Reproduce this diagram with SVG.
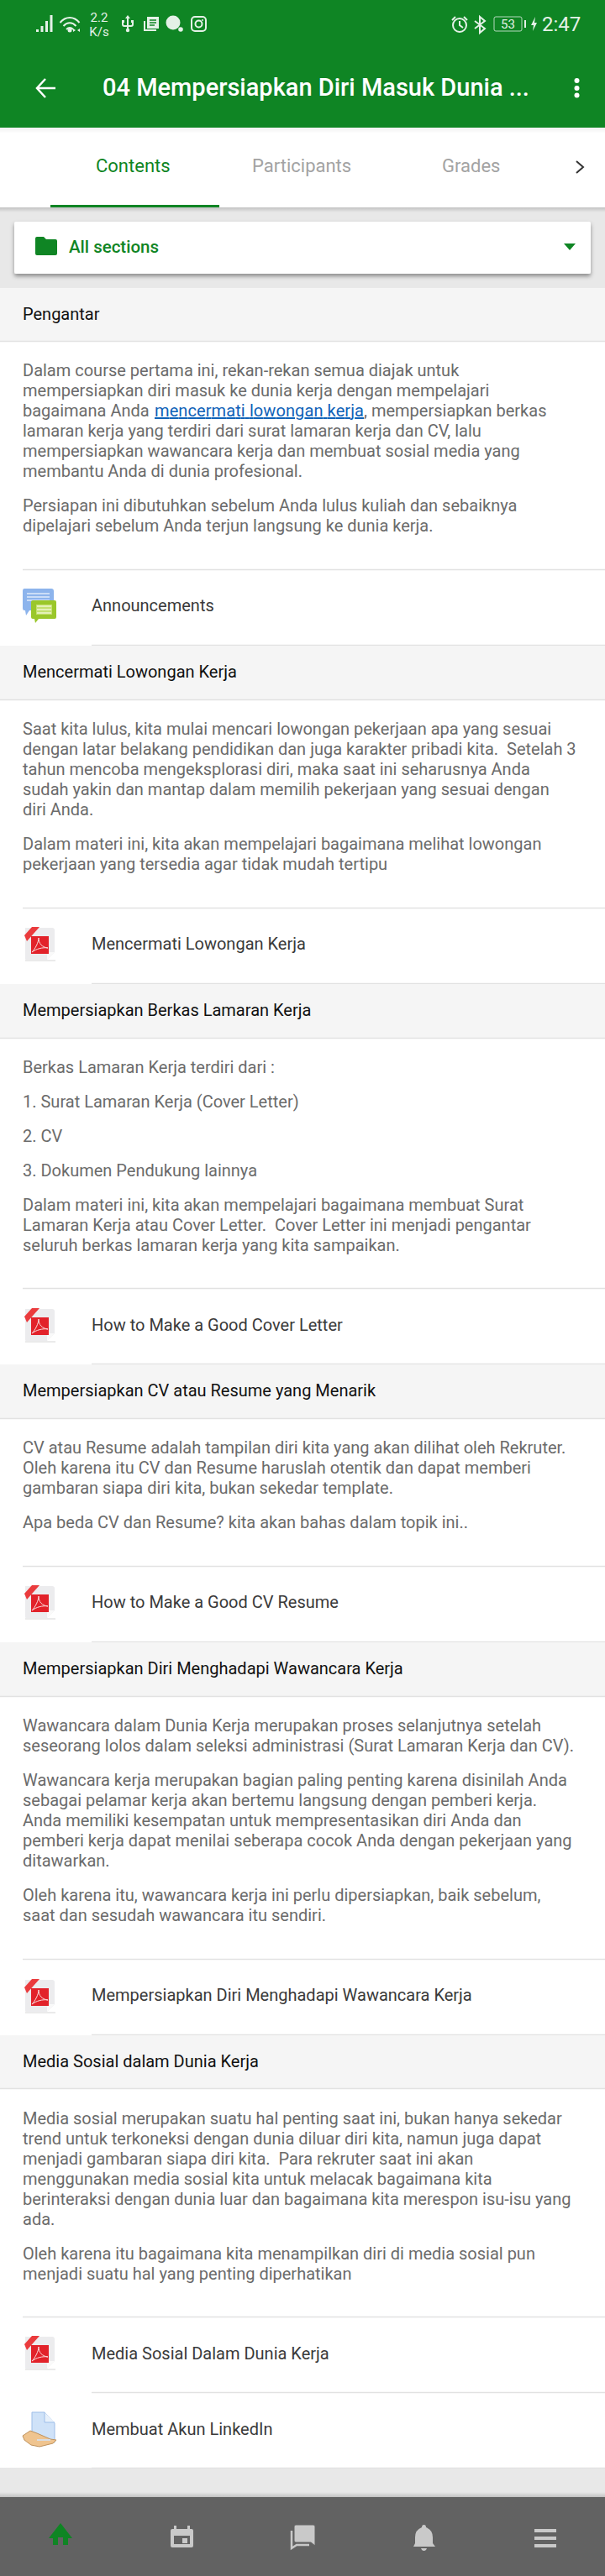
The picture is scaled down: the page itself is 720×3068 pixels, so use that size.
<svg xmlns="http://www.w3.org/2000/svg" xmlns:xlink="http://www.w3.org/1999/xlink" width="720" height="3068" viewBox="0 0 720 3068">
<style>
text{font-family:Roboto,"Liberation Sans",sans-serif;white-space:pre}
.b{font-size:20px;fill:#6b6b6b}
.h{font-size:20px;fill:#111}
.i{font-size:20px;fill:#3a3a3a}
.t{font-size:22px;fill:#a3a3a3}
.s{fill:#e4f1e7}
.shd{fill:#f5f5f5}
.l{stroke:#e2e2e2;stroke-width:1.5;fill:none}
.st{fill:none;stroke:#e4f1e7;stroke-width:2}
.n{fill:#c9c9c9}
</style>
<defs>
<linearGradient id="sh" x1="0" y1="0" x2="0" y2="1"><stop offset="0" stop-color="#000" stop-opacity=".16"/><stop offset="1" stop-color="#000" stop-opacity="0"/></linearGradient>
<filter id="card" x="-5%" y="-20%" width="110%" height="150%"><feDropShadow dx="0" dy="3" stdDeviation="2.5" flood-color="#000" flood-opacity=".4"/></filter>
<filter id="soft" x="-10%" y="-10%" width="120%" height="120%"><feGaussianBlur stdDeviation=".4"/></filter>
<g id="pdf" filter="url(#soft)">
<path d="M30 1H62Q65 1 65 4V30L56 39H31Q30 39 30 38Z" fill="#ececee"/>
<path d="M56 39 65 30H58Q56 30 56 32Z" fill="#fafafa"/>
<path d="M30 40H66" stroke="#d6d6d6" stroke-width="1"/>
<rect x="37" y="11" width="21" height="21" fill="#e2232b"/>
<path d="M29 10 38 0H47L32 17Z" fill="#ea3a3c"/>
<path d="M38 30C42 26 46 18 46 13C46 20 50 24 57 25C51 24 43 26 38 30Z" fill="none" stroke="#fbdcdc" stroke-width="1"/>
</g>
<g id="ann" filter="url(#soft)">
<path d="M29 1H61Q64 1 64 4V24Q64 27 61 27H35L31 33 30 27H29Q27 27 27 24V4Q27 1 29 1Z" fill="#8db4ec"/>
<path d="M32 7H59M32 11H59M32 15H59" stroke="#dfeafa" stroke-width="1.5"/>
<path d="M39 15H65Q67 15 67 17V35Q67 37 65 37H46L42 42 41 37H39Q37 37 37 35V17Q37 15 39 15Z" fill="#9ac72a"/>
<rect x="43" y="20" width="19" height="12" fill="#c4e06f"/>
<path d="M44 22H61M44 26H61M44 30H61" stroke="#eef6cf" stroke-width="1.4"/>
</g>
<g id="hand" filter="url(#soft)">
<path d="M38 0H53L65 13V36H38Z" fill="#cfe2f8" stroke="#9dbde8" stroke-width="1"/>
<path d="M53 0V12H65" fill="#e8f1fb" stroke="#9dbde8" stroke-width="1"/>
<path d="M27 28 36 22 44 25 60 32 67 33 63 37 47 41 37 39 29 33Z" fill="#efc48f" stroke="#bf925c" stroke-width="1"/>
<path d="M44 33H60" stroke="#d9dde2" stroke-width="2"/>
</g>
</defs>
<rect id="page" width="720" height="3068" fill="#e8e8e8"/>
<rect id="content" y="343" width="720" height="2596" fill="#fff"/>
<g id="statusbar-appbar">
<rect width="720" height="152" fill="#0f8524"/>
<g id="status-left">
<path class="s" d="M43 35h3v3h-3zM48.500 31h3v7h-3zM54 25h3v13h-3zM59.500 18h3v20h-3z"/>
<path class="st" d="M71.500 27C78 19 88 19 94.500 27M75.500 31C80 26 86 26 90.500 31M79 35C81.500 32.500 84.500 32.500 87 35"/>
<circle class="s" cx="83" cy="36" r="2.500"/>
<path class="s" d="M87 34v4l3-2zM95 34v4l-3-2z"/>
<text class="s" x="118" y="26" font-size="15" text-anchor="middle">2.2</text>
<text class="s" x="118" y="43" font-size="15" text-anchor="middle">K/s</text>
<path class="st" d="M152 20V36M146 26V29Q146 31 148 31H156Q158 31 158 29V26"/>
<circle class="s" cx="152" cy="36" r="2.200"/>
<path class="s" d="M152 18l3 4h-6zM145 24h3v3h-3zM156 24h3v3h-3z"/>
<path class="st" d="M172 25V36H186"/>
<rect class="s" x="175" y="20" width="14" height="14"/>
<path d="M178 24H186M178 27H186M178 30H184" stroke="#0f8524" stroke-width="1.500"/>
<circle class="s" cx="206" cy="27" r="8.500"/>
<circle class="s" cx="215" cy="35" r="2.800"/>
<rect class="st" x="228" y="20" width="17" height="17" rx="4"/>
<circle class="st" cx="236.500" cy="28.500" r="4"/>
<circle class="s" cx="241" cy="24" r="1"/>
</g>
<g id="status-right">
<circle class="st" cx="547" cy="30" r="8"/>
<path class="st" d="M547 25V30L551 33M538 24 542 20M556 24 552 20"/>
<path class="st" d="M565 25 577 34 571 39V20L577 25 565 34"/>
<rect x="588" y="20" width="33" height="17" rx="2" fill="none" stroke="#b5d8bd" stroke-width="1"/>
<text class="s" x="604.500" y="34" font-size="15" text-anchor="middle">53</text>
<rect class="s" x="624" y="24" width="2" height="9"/>
<path class="s" d="M637 20 632 30H635L634 37 639 27H636Z"/>
<text class="s" x="645" y="37" font-size="24">2:47</text>
</g>
<g id="appbar">
<path d="M66 105H45M54 94 44 105 54 116" fill="none" stroke="#fff" stroke-width="2.500"/>
<text x="122" y="114" font-size="29" font-weight="500" fill="#fff">04 Mempersiapkan Diri Masuk Dunia ...</text>
<circle cx="686.500" cy="96" r="3" fill="#fff"/><circle cx="686.500" cy="105" r="3" fill="#fff"/><circle cx="686.500" cy="113.500" r="3" fill="#fff"/>
</g>
</g>
<g id="tabs">
<rect y="152" width="720" height="95" fill="#fff"/>
<rect y="152" width="720" height="7" fill="url(#sh)" opacity=".35"/>
<text x="114" y="205" font-size="22" fill="#0f8524">Contents</text>
<text class="t" x="300" y="205">Participants</text>
<text class="t" x="526" y="205">Grades</text>
<path d="M686 192 694 199 686 206" fill="none" stroke="#333" stroke-width="2"/>
<rect x="60" y="244" width="201" height="3" fill="#0f8524"/>
<rect y="247" width="720" height="6" fill="url(#sh)"/>
</g>
<g id="selector">
<rect x="17" y="264" width="686" height="62" rx="2" fill="#fff" filter="url(#card)"/>
<path d="M42 284Q42 282 44 282H52L55 285H66Q68 285 68 287V302Q68 304 66 304H44Q42 304 42 302Z" fill="#0f8524"/>
<text x="82" y="301" font-size="20.500" font-weight="500" fill="#0f8524">All sections</text>
<path d="M671 290H685L678 298Z" fill="#0f8524"/>
</g>

<g id="section-pengantar">
<rect class="shd" y="343" width="720" height="63"/><path class="l" d="M0 406.500H720"/>
<text class="h" x="27" y="381">Pengantar</text>
<text class="b" x="27" y="448">Dalam course pertama ini, rekan-rekan semua diajak untuk</text>
<text class="b" x="27" y="472">mempersiapkan diri masuk ke dunia kerja dengan mempelajari</text>
<text class="b" x="27" y="496">bagaimana Anda</text>
<text class="b" x="184" y="496" style="fill:#0f62b8;text-decoration:underline" textLength="249" lengthAdjust="spacing">mencermati lowongan kerja</text>
<text class="b" x="433" y="496">, mempersiapkan berkas</text>
<text class="b" x="27" y="520">lamaran kerja yang terdiri dari surat lamaran kerja dan CV, lalu</text>
<text class="b" x="27" y="544">mempersiapkan wawancara kerja dan membuat sosial media yang</text>
<text class="b" x="27" y="568">membantu Anda di dunia profesional.</text>
<text class="b" x="27" y="609">Persiapan ini dibutuhkan sebelum Anda lulus kuliah dan sebaiknya</text>
<text class="b" x="27" y="633">dipelajari sebelum Anda terjun langsung ke dunia kerja.</text>
</g>
<g id="item-announcements">
<path class="l" d="M27 678.500H720M109 768.500H720"/>
<use xlink:href="#ann" href="#ann" y="700"/>
<text class="i" x="109" y="728">Announcements</text>
</g>

<g id="section-mencermati">
<rect class="shd" y="769" width="720" height="64"/><path class="l" d="M0 833.500H720"/>
<text class="h" x="27" y="807">Mencermati Lowongan Kerja</text>
<text class="b" x="27" y="875">Saat kita lulus, kita mulai mencari lowongan pekerjaan apa yang sesuai</text>
<text class="b" x="27" y="899">dengan latar belakang pendidikan dan juga karakter pribadi kita.  Setelah 3</text>
<text class="b" x="27" y="923">tahun mencoba mengeksplorasi diri, maka saat ini seharusnya Anda</text>
<text class="b" x="27" y="947">sudah yakin dan mantap dalam memilih pekerjaan yang sesuai dengan</text>
<text class="b" x="27" y="971">diri Anda.</text>
<text class="b" x="27" y="1012">Dalam materi ini, kita akan mempelajari bagaimana melihat lowongan</text>
<text class="b" x="27" y="1036">pekerjaan yang tersedia agar tidak mudah tertipu</text>
</g>
<g id="item-mencermati">
<path class="l" d="M27 1081.500H720M109 1171.500H720"/>
<use xlink:href="#pdf" href="#pdf" y="1104"/>
<text class="i" x="109" y="1131">Mencermati Lowongan Kerja</text>
</g>

<g id="section-berkas">
<rect class="shd" y="1172" width="720" height="64"/><path class="l" d="M0 1236.500H720"/>
<text class="h" x="27" y="1210">Mempersiapkan Berkas Lamaran Kerja</text>
<text class="b" x="27" y="1278">Berkas Lamaran Kerja terdiri dari :</text>
<text class="b" x="27" y="1319">1. Surat Lamaran Kerja (Cover Letter)</text>
<text class="b" x="27" y="1360">2. CV</text>
<text class="b" x="27" y="1401">3. Dokumen Pendukung lainnya</text>
<text class="b" x="27" y="1442">Dalam materi ini, kita akan mempelajari bagaimana membuat Surat</text>
<text class="b" x="27" y="1466">Lamaran Kerja atau Cover Letter.  Cover Letter ini menjadi pengantar</text>
<text class="b" x="27" y="1490">seluruh berkas lamaran kerja yang kita sampaikan.</text>
</g>
<g id="item-cover">
<path class="l" d="M27 1534.500H720M109 1624.500H720"/>
<use xlink:href="#pdf" href="#pdf" y="1558"/>
<text class="i" x="109" y="1585">How to Make a Good Cover Letter</text>
</g>

<g id="section-cv">
<rect class="shd" y="1625" width="720" height="64"/><path class="l" d="M0 1689.500H720"/>
<text class="h" x="27" y="1663">Mempersiapkan CV atau Resume yang Menarik</text>
<text class="b" x="27" y="1731">CV atau Resume adalah tampilan diri kita yang akan dilihat oleh Rekruter.</text>
<text class="b" x="27" y="1755">Oleh karena itu CV dan Resume haruslah otentik dan dapat memberi</text>
<text class="b" x="27" y="1779">gambaran siapa diri kita, bukan sekedar template.</text>
<text class="b" x="27" y="1820">Apa beda CV dan Resume? kita akan bahas dalam topik ini..</text>
</g>
<g id="item-cv">
<path class="l" d="M27 1865.500H720M109 1955.500H720"/>
<use xlink:href="#pdf" href="#pdf" y="1888"/>
<text class="i" x="109" y="1915">How to Make a Good CV Resume</text>
</g>

<g id="section-wawancara">
<rect class="shd" y="1956" width="720" height="64"/><path class="l" d="M0 2020.500H720"/>
<text class="h" x="27" y="1994">Mempersiapkan Diri Menghadapi Wawancara Kerja</text>
<text class="b" x="27" y="2062">Wawancara dalam Dunia Kerja merupakan proses selanjutnya setelah</text>
<text class="b" x="27" y="2086">seseorang lolos dalam seleksi administrasi (Surat Lamaran Kerja dan CV).</text>
<text class="b" x="27" y="2127">Wawancara kerja merupakan bagian paling penting karena disinilah Anda</text>
<text class="b" x="27" y="2151">sebagai pelamar kerja akan bertemu langsung dengan pemberi kerja.</text>
<text class="b" x="27" y="2175">Anda memiliki kesempatan untuk mempresentasikan diri Anda dan</text>
<text class="b" x="27" y="2199">pemberi kerja dapat menilai seberapa cocok Anda dengan pekerjaan yang</text>
<text class="b" x="27" y="2223">ditawarkan.</text>
<text class="b" x="27" y="2264">Oleh karena itu, wawancara kerja ini perlu dipersiapkan, baik sebelum,</text>
<text class="b" x="27" y="2288">saat dan sesudah wawancara itu sendiri.</text>
</g>
<g id="item-wawancara">
<path class="l" d="M27 2333.500H720M109 2423.500H720"/>
<use xlink:href="#pdf" href="#pdf" y="2357"/>
<text class="i" x="109" y="2383">Mempersiapkan Diri Menghadapi Wawancara Kerja</text>
</g>

<g id="section-media">
<rect class="shd" y="2424" width="720" height="63"/><path class="l" d="M0 2487.500H720"/>
<text class="h" x="27" y="2462">Media Sosial dalam Dunia Kerja</text>
<text class="b" x="27" y="2530">Media sosial merupakan suatu hal penting saat ini, bukan hanya sekedar</text>
<text class="b" x="27" y="2554">trend untuk terkoneksi dengan dunia diluar diri kita, namun juga dapat</text>
<text class="b" x="27" y="2578">menjadi gambaran siapa diri kita.  Para rekruter saat ini akan</text>
<text class="b" x="27" y="2602">menggunakan media sosial kita untuk melacak bagaimana kita</text>
<text class="b" x="27" y="2626">berinteraksi dengan dunia luar dan bagaimana kita merespon isu-isu yang</text>
<text class="b" x="27" y="2650">ada.</text>
<text class="b" x="27" y="2691">Oleh karena itu bagaimana kita menampilkan diri di media sosial pun</text>
<text class="b" x="27" y="2715">menjadi suatu hal yang penting diperhatikan</text>
</g>
<g id="item-media">
<path class="l" d="M27 2759.500H720M109 2849.500H720"/>
<use xlink:href="#pdf" href="#pdf" y="2782"/>
<text class="i" x="109" y="2810">Media Sosial Dalam Dunia Kerja</text>
</g>
<g id="item-linkedin">
<path class="l" d="M109 2939.500H720"/>
<use xlink:href="#hand" href="#hand" y="2873"/>
<text class="i" x="109" y="2900">Membuat Akun LinkedIn</text>
</g>

<g id="bottomnav">
<rect y="2968" width="720" height="6" fill="url(#sh)" transform="matrix(1 0 0 -1 0 5942)"/>
<rect y="2974" width="720" height="94" fill="#626262"/>
<path id="nav-home" d="M72 3005 86 3023H81V3031H75V3022H69V3031H63V3023H58Z" fill="#0f8524"/>
<g id="nav-calendar"><path class="n" d="M205 3012Q203 3012 203 3014V3032Q203 3034 205 3034H228Q230 3034 230 3032V3014Q230 3012 228 3012H226V3008H223V3012H210V3008H207V3012ZM207 3020H226V3030H207Z"/><rect class="n" x="217" y="3023" width="6" height="6"/></g>
<g id="nav-courses"><path d="M347 3014V3035L353 3031H368" fill="none" stroke="#c9c9c9" stroke-width="2.500"/><path class="n" d="M352 3007H373Q375 3007 375 3009V3032L370 3028H352Q350 3028 350 3026V3009Q350 3007 352 3007Z" stroke="#626262" stroke-width="1"/></g>
<g id="nav-bell"><path class="n" d="M504.500 3007Q507 3007 507 3010 515 3013 515 3022V3029L518 3033H492L494 3029V3022Q494 3013 502 3010 502 3007 504.500 3007Z"/><path class="n" d="M501 3035H508Q507 3038 504.500 3038 502 3038 501 3035Z"/></g>
<g id="nav-menu"><rect class="n" x="636" y="3012" width="26" height="4"/><rect class="n" x="636" y="3021" width="26" height="4"/><rect class="n" x="636" y="3030" width="26" height="4"/></g>
</g>
</svg>
